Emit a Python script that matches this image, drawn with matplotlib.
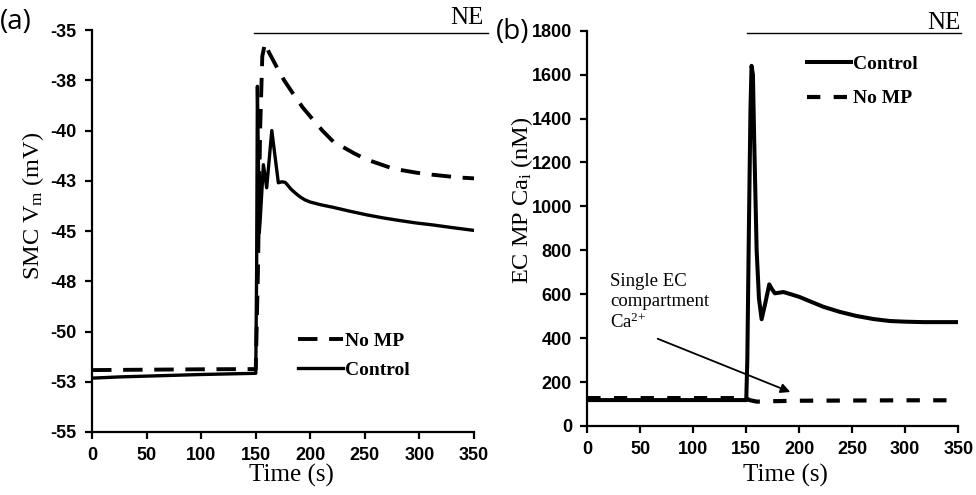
import matplotlib
matplotlib.use('Agg')
import matplotlib.pyplot as plt
import numpy as np

################################################
################## Data ########################
################################################
# (a) SMC membrane potential (mV)
t_a_ctrl = [0, 25, 50, 100, 150, 150.8, 151.5, 152.3, 153.2, 154, 157, 160, 164.7, 170.7, 174, 177, 179,
            182, 186, 190.6, 195, 200, 210, 220.8, 235, 252, 267, 282, 297, 312.6, 330, 350]
v_a_ctrl = [-52.32, -52.26, -52.22, -52.14, -52.08, -47, -37.8, -41, -45.1, -44.5, -41.7, -42.85, -40.0, -42.6,
            -42.55, -42.58, -42.7, -42.9, -43.1, -43.3, -43.45, -43.56, -43.7, -43.82, -44.0, -44.2, -44.35,
            -44.48, -44.6, -44.7, -44.83, -44.97]
t_a_nomp = [0, 50, 100, 150, 152, 154, 156, 158.5, 162, 169, 176, 184, 193, 202.6, 211, 221, 241, 252, 276,
            297.5, 312, 337, 350]
v_a_nomp = [-51.92, -51.9, -51.88, -51.87, -47, -40, -36.3, -35.65, -36.1, -36.82, -37.5, -38.15, -38.85,
            -39.47, -40.0, -40.55, -41.16, -41.45, -41.9, -42.1, -42.2, -42.34, -42.38]

# (b) EC MP Ca (nM)
t_b_ctrl = [0, 50, 100, 150, 151, 152.5, 154, 155, 156.3, 157.5, 159.8, 162, 164.5, 168, 171.7, 174, 177,
            181, 185, 192, 200, 210, 222.6, 238, 254, 270, 285.5, 300, 317, 350]
c_b_ctrl = [118, 118, 118, 118, 300, 900, 1450, 1640, 1600, 1300, 800, 580, 486, 560, 645, 625, 604,
            607, 610, 600, 588, 568, 543, 520, 501, 487, 478, 475, 473, 473]
t_b_nomp = [0, 50, 100, 150, 153, 160, 175, 200, 250, 300, 350]
c_b_nomp = [127, 127, 127, 127, 118, 111, 113, 115, 116, 117, 117]

xticks = [0, 50, 100, 150, 200, 250, 300, 350]
a_yticks = [-55, -52.5, -50, -47.5, -45, -42.5, -40, -37.5, -35]
a_yticklabels = ['-55', '-53', '-50', '-48', '-45', '-43', '-40', '-38', '-35']
b_yticks = [0, 200, 400, 600, 800, 1000, 1200, 1400, 1600, 1800]

ne_a = [148.4, 363]      # NE bar start/end (s)
ne_b = [151, 353]

################################################
################## Style #######################
################################################
plt.rcParams['mathtext.fontset'] = 'custom'
plt.rcParams['mathtext.rm'] = 'Liberation Serif'
plt.rcParams['mathtext.it'] = 'Liberation Serif:italic'
serif = ['Liberation Serif', 'DejaVu Serif']
tickfont = dict(family=['Liberation Sans Narrow', 'Liberation Sans'], weight='bold', size=13)
legfont = dict(family=serif, weight='bold', size=14)

fig = plt.figure(figsize=(9.76, 4.95), dpi=100)
axA = fig.add_axes([0.0943, 0.1273, 0.3914, 0.812])
axB = fig.add_axes([0.6017, 0.1394, 0.3801, 0.7986])


def style(ax):
    for s in ['top', 'right']:
        ax.spines[s].set_visible(False)
    for s in ['left', 'bottom']:
        ax.spines[s].set_linewidth(1.6)
    ax.tick_params(direction='out', length=5, width=1.6, pad=6)
    ax.set_xlim(0, 350)
    ax.set_xticks(xticks)
    ax.set_xticklabels([str(x) for x in xticks], fontdict=tickfont)


####### (a)
style(axA)
axA.plot(t_a_nomp, v_a_nomp, color='black', lw=2.8, dashes=(5, 3), label='No MP')
axA.plot(t_a_ctrl, v_a_ctrl, color='black', lw=2.4, label='Control')
axA.set_ylim(-55, -35)
axA.set_yticks(a_yticks)
axA.set_yticklabels(a_yticklabels, fontdict=tickfont)
axA.plot(ne_a, [-35.17, -35.17], color='black', lw=1.0, clip_on=False)
axA.legend(loc='upper left', bbox_to_anchor=(0.539, 0.248), frameon=False, prop=legfont,
           handlelength=2.3, handletextpad=0.1, borderpad=0, borderaxespad=0, labelspacing=0.6)

####### (b)
style(axB)
axB.plot(t_b_ctrl, c_b_ctrl, color='black', lw=2.9, label='Control')
axB.plot(t_b_nomp, c_b_nomp, color='black', lw=3.0, dashes=(3.2, 3.2), label='No MP')
axB.set_ylim(0, 1800)
axB.set_yticks(b_yticks)
axB.set_yticklabels([str(y) for y in b_yticks], fontdict=tickfont)
axB.plot(ne_b, [1788, 1788], color='black', lw=1.0, clip_on=False)
axB.legend(loc='upper left', bbox_to_anchor=(0.591, 0.937), frameon=False, prop=legfont,
           handlelength=2.3, handletextpad=0.1, borderpad=0, borderaxespad=0, labelspacing=0.85)
axB.text(21.4, 695, 'Single EC\ncompartment\nCa$^{2{+}}$', family=serif, size=13.5, va='top', ha='left',
         linespacing=1.2)
axB.annotate('', xy=(194, 150), xytext=(64, 402),
             arrowprops=dict(arrowstyle='-|>', color='black', lw=1.3, mutation_scale=14))

####### labels
fig.text(0.0338, 0.585, 'SMC V$_\\mathrm{m}$ (mV)', rotation=90, ha='center', va='center', family=serif, size=17.5)
fig.text(0.535, 0.595, 'EC MP Ca$_\\mathrm{i}$ (nM)', rotation=90, ha='center', va='center', family=serif, size=17.5)
fig.text(0.299, 0.040, 'Time (s)', ha='center', va='center', family=serif, size=18)
fig.text(0.805, 0.040, 'Time (s)', ha='center', va='center', family=serif, size=18)
fig.text(0.495, 0.963, 'NE', ha='right', va='center', family=serif, size=18)
fig.text(0.984, 0.953, 'NE', ha='right', va='center', family=serif, size=18)
fig.text(0.0, 0.955, '(a)', ha='left', va='center', family=['Open Sans', 'DejaVu Sans'], size=20)
fig.text(0.508, 0.935, '(b)', ha='left', va='center', family=['Open Sans', 'DejaVu Sans'], size=20)

fig.savefig('out.png', dpi=100)
